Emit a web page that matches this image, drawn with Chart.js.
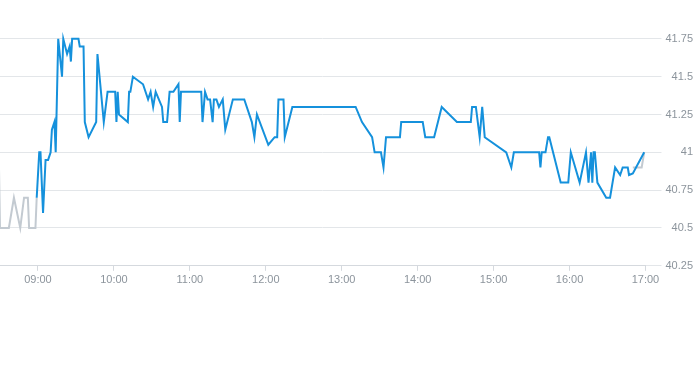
<!DOCTYPE html>
<html>
<head>
<meta charset="utf-8">
<script src="https://cdn.jsdelivr.net/npm/chart.js@4/dist/chart.umd.min.js"></script>
<style>
  html, body { margin: 0; padding: 0; background: #fff; }
  #wrap { width: 693px; height: 365px; }
</style>
</head>
<body>
<div id="wrap"><canvas id="priceChart"></canvas></div>
<script>
// intraday price, times as HH:MM
const sessionTimes = ['08:59','09:01','09:02','09:04','09:06','09:08','09:10','09:11','09:13','09:14',
  '09:16','09:19','09:20','09:23','09:25','09:26','09:27','09:32','09:33','09:36',
  '09:37','09:40','09:46','09:47','09:52','09:55','10:01','10:02','10:03','10:04',
  '10:11','10:12','10:13','10:15','10:23','10:27','10:29','10:31','10:33','10:38',
  '10:39','10:42','10:44','10:47','10:51','10:52','10:53','11:09','11:10','11:12',
  '11:14','11:16','11:18','11:19','11:21','11:23','11:26','11:28','11:34','11:43',
  '11:49','11:51','11:53','12:02','12:07','12:09','12:10','12:14','12:15','12:21',
  '13:06','13:11','13:16','13:24','13:26','13:31','13:33','13:35','13:46','13:47',
  '14:04','14:06','14:13','14:19','14:31','14:42','14:43','14:46','14:49','14:51',
  '14:53','15:10','15:14','15:16','15:36','15:37','15:38','15:41','15:43','15:44',
  '15:53','15:59','16:01','16:08','16:13','16:15','16:17','16:18','16:19','16:20',
  '16:22','16:29','16:32','16:36','16:40','16:42','16:46','16:47','16:50','16:59'];
const sessionPrices = [40.7,41.0,41.0,40.6,40.95,40.95,41.0,41.15,41.2,41.0,
  41.75,41.5,41.75,41.65,41.7,41.6,41.75,41.75,41.7,41.7,
  41.2,41.1,41.2,41.65,41.2,41.4,41.4,41.2,41.4,41.25,
  41.2,41.4,41.4,41.5,41.45,41.35,41.4,41.3,41.4,41.3,
  41.2,41.2,41.4,41.4,41.45,41.2,41.4,41.4,41.2,41.4,
  41.35,41.35,41.2,41.35,41.35,41.3,41.35,41.15,41.35,41.35,
  41.2,41.1,41.25,41.05,41.1,41.1,41.35,41.35,41.1,41.3,
  41.3,41.3,41.2,41.1,41.0,41.0,40.9,41.1,41.1,41.2,
  41.2,41.1,41.1,41.3,41.2,41.2,41.3,41.3,41.1,41.3,
  41.1,41.0,40.9,41.0,41.0,40.9,41.0,41.0,41.1,41.1,
  40.8,40.8,41.0,40.8,41.0,40.8,41.0,40.8,41.0,41.0,
  40.8,40.7,40.7,40.9,40.85,40.9,40.9,40.85,40.86,41.0];

// pre-market / after-hours in grey
const extTimes = ['08:29','08:30','08:37','08:41','08:46','08:49','08:52','08:53','08:58','08:59',
  '16:49','16:50','16:57','16:59'];
const extPrices = [41.0,40.5,40.5,40.7,40.5,40.7,40.7,40.5,40.5,40.7,
  null,40.9,40.9,41.0];

const hourTicks = ['09:00','10:00','11:00','12:00','13:00','14:00','15:00','16:00','17:00'];
const priceTicks = [40.25, 40.5, 40.75, 41, 41.25, 41.5, 41.75];

const toMin = t => { const p = t.split(':'); return +p[0] * 60 + +p[1]; };
const toHHMM = m => String(Math.floor(m / 60)).padStart(2, '0') + ':' + String(m % 60).padStart(2, '0');
const pts = (ts, vs) => ts.map((t, i) => ({ x: toMin(t), y: vs[i] }));

const labelColor = '#8c949c';
const font = { family: 'Liberation Sans, Arial, sans-serif', size: 11 };

new Chart(document.getElementById('priceChart'), {
  type: 'line',
  data: {
    datasets: [
      {
        data: pts(sessionTimes, sessionPrices),
        borderColor: '#1591dc',
        borderWidth: 2,
        pointRadius: 0,
        tension: 0
      },
      {
        data: pts(extTimes, extPrices),
        borderColor: '#c3cad1',
        borderWidth: 2,
        pointRadius: 0,
        tension: 0,
        spanGaps: false
      }
    ]
  },
  options: {
    responsive: true,
    maintainAspectRatio: false,
    animation: false,
    layout: { padding: { bottom: 75, left: 0, right: 0, top: 0 } },
    plugins: { legend: { display: false }, tooltip: { enabled: false } },
    scales: {
      x: {
        type: 'linear',
        min: toMin('08:30'),
        max: toMin('17:00'),
        afterBuildTicks: s => { s.ticks = hourTicks.map(t => ({ value: toMin(t) })); },
        grid: { drawOnChartArea: false, tickLength: 5, color: '#d5d9de' },
        border: { color: '#d5d9de' },
        ticks: {
          autoSkip: false, maxRotation: 0, color: labelColor, font: font, padding: 3,
          callback: v => toHHMM(v)
        }
      },
      y: {
        position: 'right',
        min: 40.25,
        max: 41.95,
        afterBuildTicks: s => { s.ticks = priceTicks.map(v => ({ value: v })); },
        grid: { color: '#e3e6e9', tickLength: 16 },
        border: { display: false },
        ticks: {
          color: labelColor, font: font, padding: 2, crossAlign: 'far',
          callback: v => String(v)
        }
      }
    }
  }
});
</script>
</body>
</html>
